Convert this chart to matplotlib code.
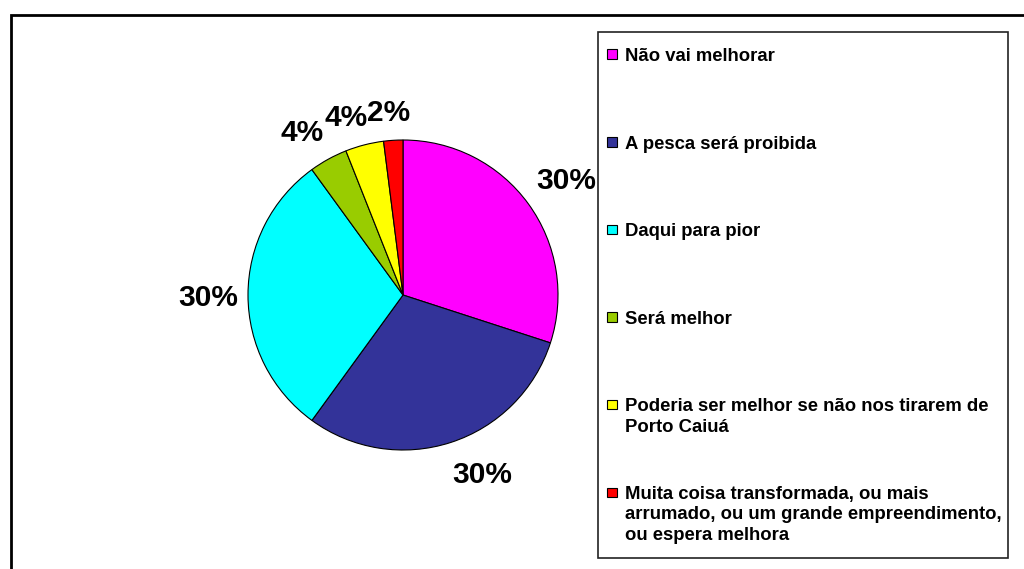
import numpy as np
import matplotlib.pyplot as plt
import matplotlib.patches as patches

plt.rcParams['font.family'] = ['Liberation Sans', 'DejaVu Sans']

# answers and share of respondents (%)
labels = [
    "Não vai melhorar",
    "A pesca será proibida",
    "Daqui para pior",
    "Será melhor",
    "Poderia ser melhor se não nos tirarem de\nPorto Caiuá",
    "Muita coisa transformada, ou mais\narrumado, ou um grande empreendimento,\nou espera melhora",
]
values = [30, 30, 30, 4, 4, 2]
colors = ["#FF00FF", "#333399", "#00FFFF", "#99CC00", "#FFFF00", "#FF0000"]

W, H = 1024, 569
fig = plt.figure(figsize=(W / 100, H / 100), dpi=100)

# outer chart frame
fig.patches.append(patches.Rectangle((11 / W, -0.1), 1.1, (H - 15) / H + 0.1,
                                     transform=fig.transFigure, fill=False,
                                     edgecolor="black", linewidth=2))

# pie, centre (403, 295) px, radius 155 px
cx, cy, r = 403, 295, 155
ax = fig.add_axes([(cx - r) / W, (H - cy - r) / H, 2 * r / W, 2 * r / H])
wedges, texts, autotexts = ax.pie(
    values, colors=colors, startangle=90, counterclock=False,
    autopct="%d%%", pctdistance=1.25, radius=1,
    wedgeprops=dict(edgecolor="black", linewidth=0.8),
    textprops=dict(fontsize=21.5, fontweight="bold", color="black"),
)
ax.set_xlim(-1, 1)
ax.set_ylim(-1, 1)
ax.set_aspect("equal")
ax.axis("off")

# push each percentage outside the rim so its near corner faces the wedge
fig.canvas.draw()
rend = fig.canvas.get_renderer()
px = 1.0 / r  # one pixel in data units
for w, t in zip(wedges, autotexts):
    mid = np.deg2rad((w.theta1 + w.theta2) / 2)
    c, s = np.cos(mid), np.sin(mid)
    half_w = t.get_window_extent(rend).width / 2
    x = 165 * px * c + half_w * px * np.clip(3 * c, -1, 1)
    y = 165 * px * s + 20 * px * np.clip(3 * s, -1, 1)
    t.set_position((x, y))
    t.set_ha("center")
    t.set_va("center_baseline")

# legend box
lx0, ly0, lx1, ly1 = 598, 32, 1008, 558
fig.patches.append(patches.Rectangle((lx0 / W, 1 - ly1 / H), (lx1 - lx0) / W,
                                     (ly1 - ly0) / H, transform=fig.transFigure,
                                     facecolor="white", edgecolor="#222222",
                                     linewidth=1.2))

base0, step, line_h = 61, 87.6, 20.3
for i, (lab, w) in enumerate(zip(labels, wedges)):
    yb = base0 + i * step
    fig.patches.append(patches.Rectangle((607 / W, 1 - (yb - 2) / H), 9.5 / W, 9.5 / H,
                                         transform=fig.transFigure,
                                         facecolor=w.get_facecolor(),
                                         edgecolor="black", linewidth=0.8))
    for j, line in enumerate(lab.split("\n")):
        fig.text(625 / W, 1 - (yb + j * line_h) / H, line, fontsize=13.3,
                 fontweight="bold", va="baseline", ha="left")

fig.savefig("out.png", dpi=100)
